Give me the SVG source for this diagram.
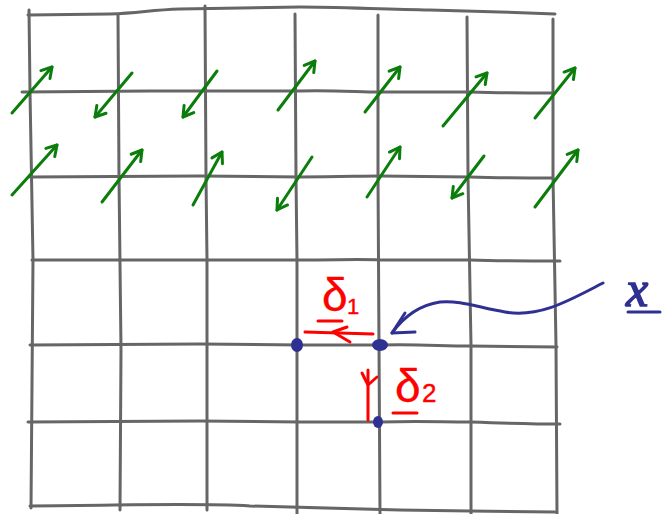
<svg xmlns="http://www.w3.org/2000/svg" width="670" height="514" viewBox="0 0 670 514">
<style>
.grid{fill:none;stroke:#666666;stroke-width:3;stroke-linecap:round;stroke-linejoin:round}
.vec{fill:none;stroke:#0a7d0a;stroke-width:3;stroke-linecap:round}
.red{fill:none;stroke:#ff0000;stroke-width:3;stroke-linecap:round;stroke-linejoin:round}
.blue{fill:none;stroke:#2e3192;stroke-width:3;stroke-linecap:round;stroke-linejoin:round}
.rt{fill:#ff0000;stroke:#ff0000;stroke-width:0.4;font-family:"Liberation Sans","DejaVu Sans",sans-serif}
.bt{fill:#2e3192;stroke:#2e3192;stroke-width:1.5;font-family:"Liberation Serif","DejaVu Serif",serif;font-style:italic}
.dot{fill:#2e3192}
</style>
<defs>
<marker id="gh" markerUnits="userSpaceOnUse" markerWidth="20" markerHeight="20" refX="0" refY="0" viewBox="-12 -10 14 20" orient="auto">
<path d="M-10,-6 L0,0 L-10,6" fill="none" stroke="#0a7d0a" stroke-width="3" stroke-linecap="round" stroke-linejoin="round"/>
</marker>
</defs>
<rect width="670" height="514" fill="#ffffff"/>
<g id="grid" class="grid">
<path d="M28,15 L110,14 C140,13 150,10 180,9 L300,7 C330,7 380,9 430,10 L500,12 L555,14"/>
<path d="M22,92 L150,91 L300,91 C330,90 360,92 378,92 L470,92 C500,93 530,93 552,93"/>
<path d="M30,177 L200,176 L300,177 C340,177 360,176 380,176 L470,177 C500,178 530,178 553,178"/>
<path d="M32,260 L200,260 L300,260 C340,260 360,259 380,260 L470,260 C500,261 530,261 560,261"/>
<path d="M30,345 L200,344 L300,345 L380,345 C420,344 440,346 470,346 L557,347"/>
<path d="M28,422 L200,421 L300,422 L380,422 C420,421 440,422 470,422 C500,423 530,424 560,424"/>
<path d="M30,506 C150,505 200,503 250,506 L400,510 L470,511 L555,512"/>
<path d="M29,10 L30,92 L33,260 L31,508"/>
<path d="M118,15 L119,177 L121,350 L120,510"/>
<path d="M205,6 L206,177 L207,260 L207,510"/>
<path d="M295,14 L296,177 L297,260 L297,514"/>
<path d="M378,15 L378,177 L379,345 L380,514"/>
<path d="M467,17 L468,177 L471,345 L471,514"/>
<path d="M553,19 L553,177 L556,345 L557,514"/>
</g>
<g id="vectors" class="vec">
<path d="M12,113 L52,67" marker-end="url(#gh)"/>
<path d="M132,73 L95,117" marker-end="url(#gh)"/>
<path d="M217,71 L183,117" marker-end="url(#gh)"/>
<path d="M278,110 L315,61" marker-end="url(#gh)"/>
<path d="M365,112 L400,67" marker-end="url(#gh)"/>
<path d="M443,126 L487,73" marker-end="url(#gh)"/>
<path d="M535,118 L575,68" marker-end="url(#gh)"/>
<path d="M12,195 L57,145" marker-end="url(#gh)"/>
<path d="M102,202 L142,150" marker-end="url(#gh)"/>
<path d="M193,205 L222,152" marker-end="url(#gh)"/>
<path d="M312,157 L277,210" marker-end="url(#gh)"/>
<path d="M367,197 L400,147" marker-end="url(#gh)"/>
<path d="M484,156 L452,198" marker-end="url(#gh)"/>
<path d="M535,207 L578,150" marker-end="url(#gh)"/>
</g>
<g id="points">
<ellipse class="dot" cx="297" cy="345" rx="6" ry="7"/>
<ellipse class="dot" cx="380" cy="345" rx="8" ry="6"/>
<ellipse class="dot" cx="378" cy="422" rx="5" ry="6"/>
</g>
<g id="delta1">
<text class="rt" x="322" y="311" font-size="46">δ</text>
<text class="rt" x="347" y="314" font-size="22">1</text>
<path class="red" d="M318,321 L342,321"/>
<path class="red" d="M305,332 L373,334"/>
<path class="red" d="M347,327 L333,332 L350,342"/>
</g>
<g id="delta2">
<text class="rt" x="395" y="402" font-size="46">δ</text>
<text class="rt" x="422" y="402" font-size="26">2</text>
<path class="red" d="M393,413 L417,413"/>
<path class="red" d="M368,370 L368,420"/>
<path class="red" d="M362,373 L368,385 L377,377"/>
</g>
<g id="x-label">
<path class="blue" d="M603,283 C570,300 540,318 505,312 C480,308 460,300 440,302 C420,305 405,315 392,333"/>
<path class="blue" d="M405,313 L392,333 L415,332"/>
<text class="bt" x="626" y="306" font-size="50">x</text>
<path class="blue" d="M628,312 L660,312"/>
</g>
</svg>
